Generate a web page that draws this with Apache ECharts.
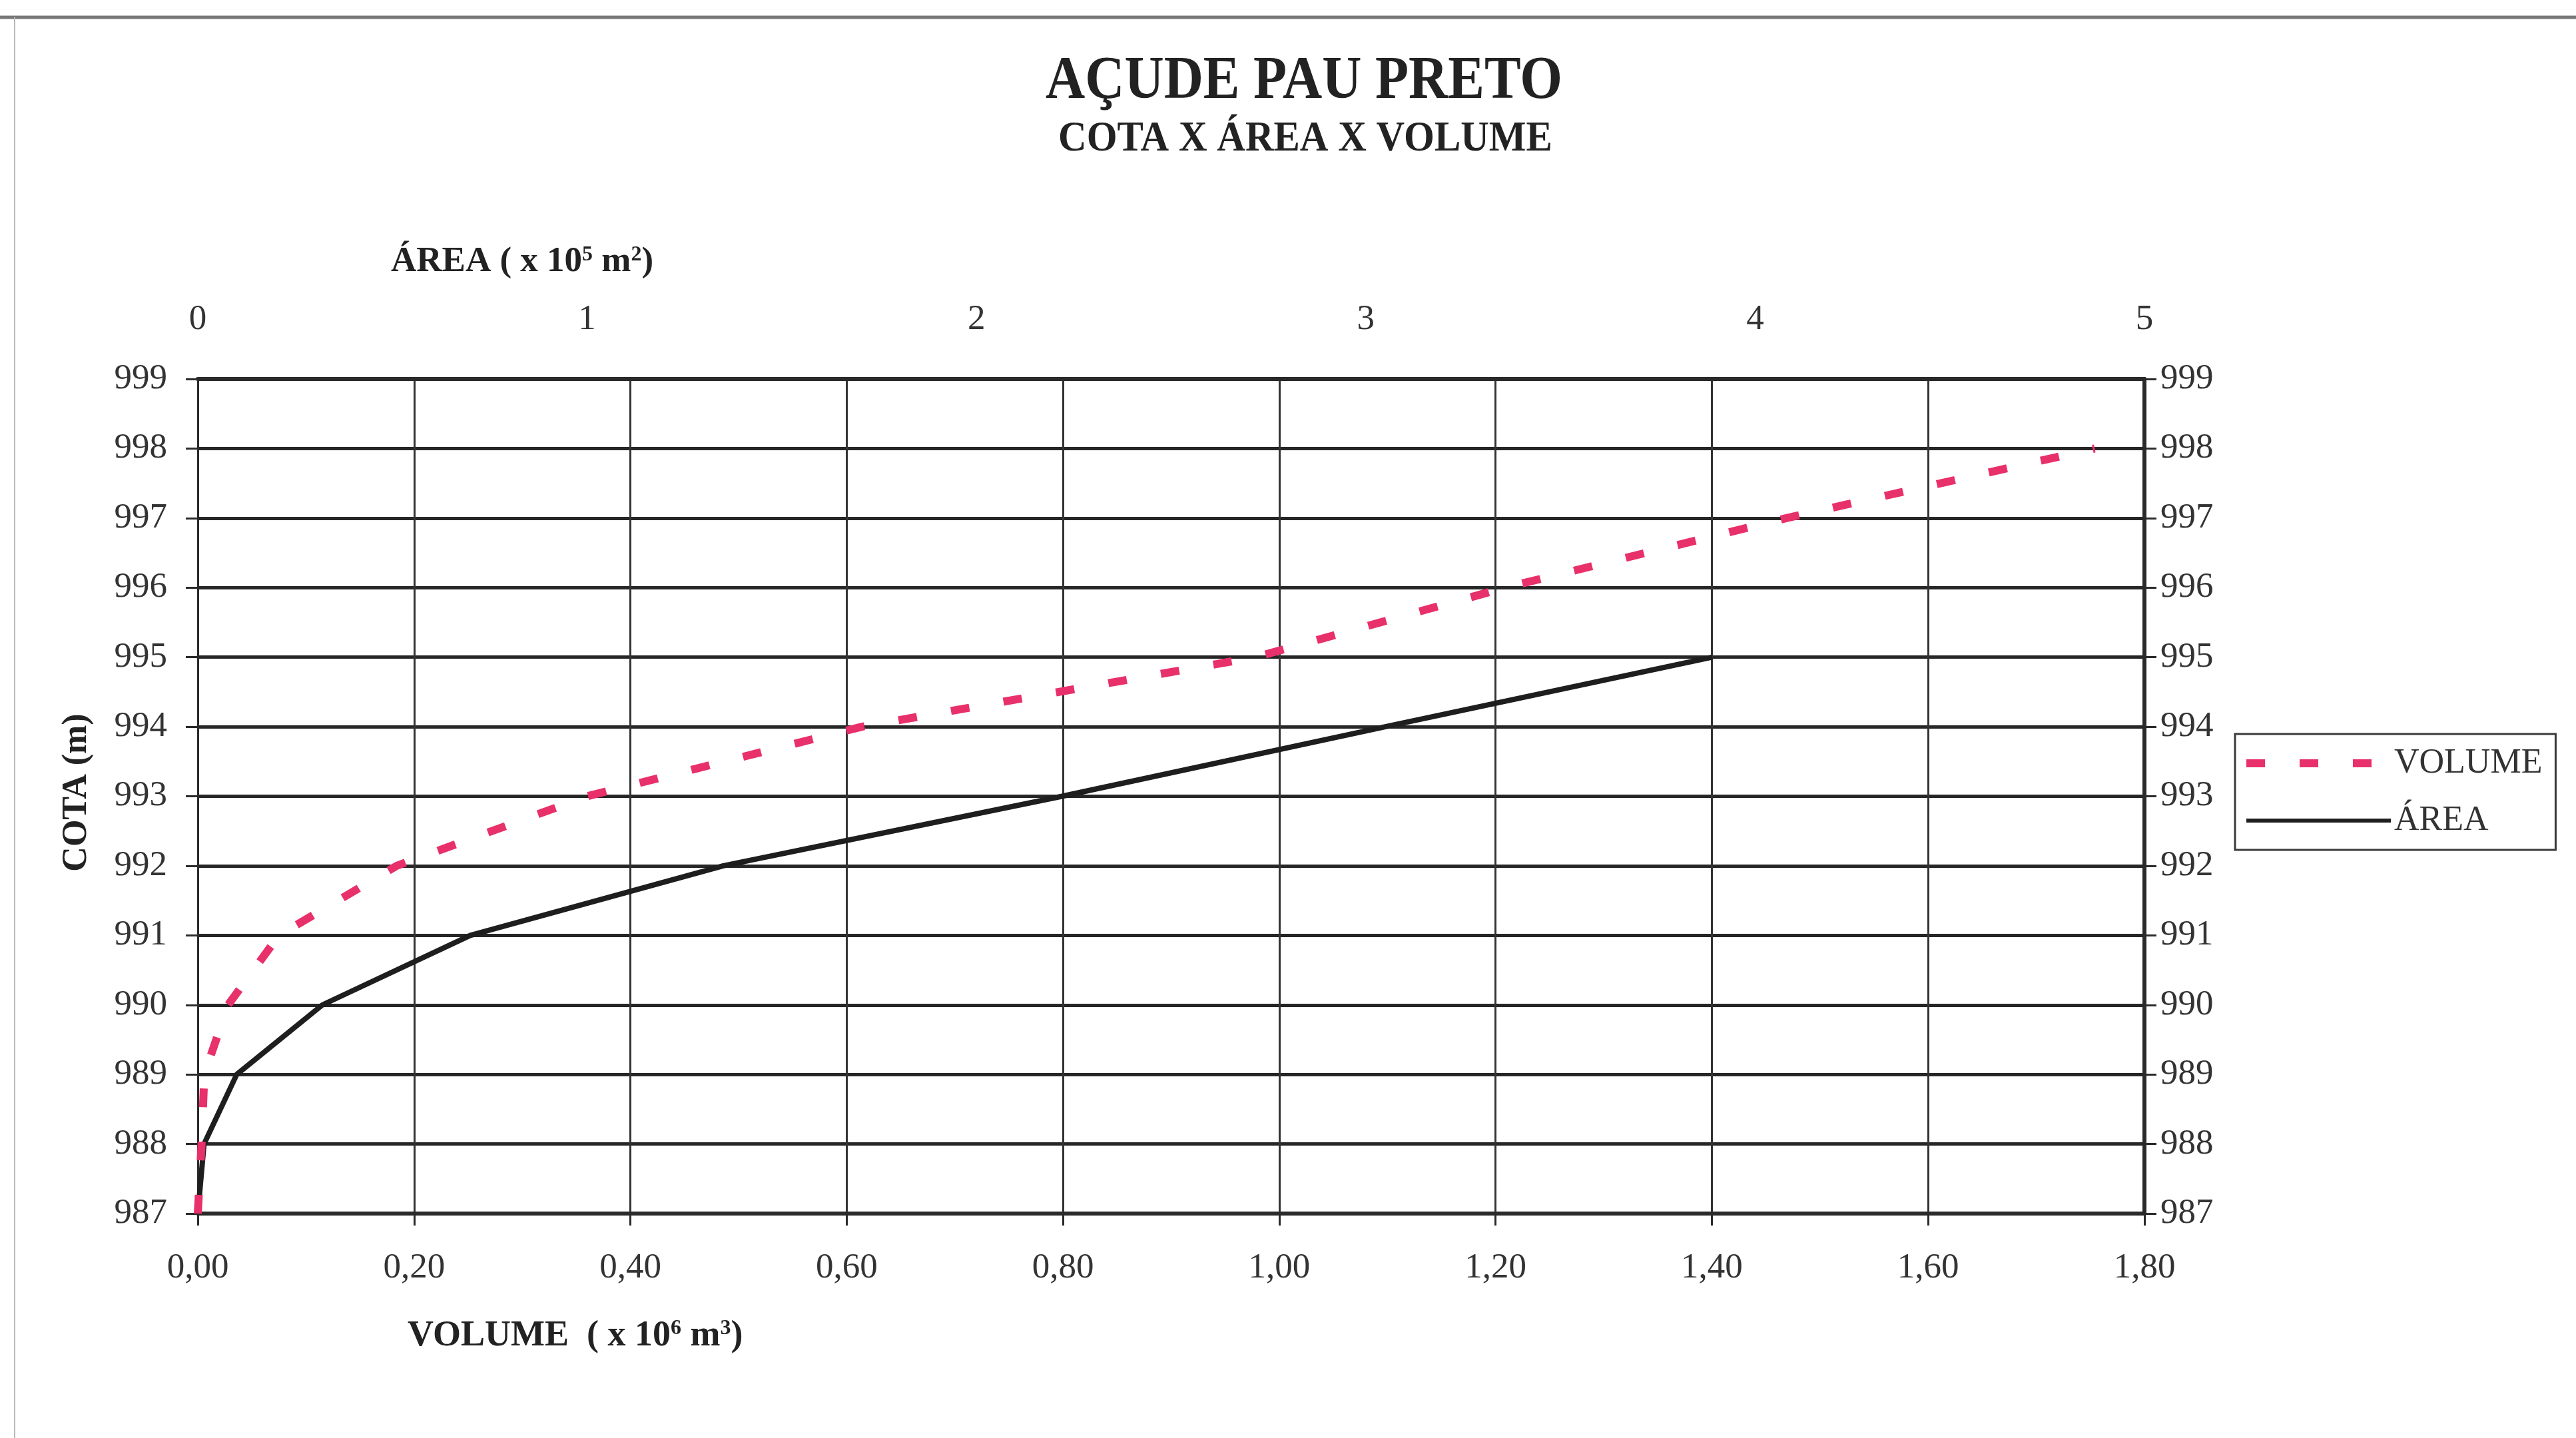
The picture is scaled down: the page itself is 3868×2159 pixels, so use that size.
<!DOCTYPE html>
<html><head><meta charset="utf-8">
<script src="https://cdn.jsdelivr.net/npm/echarts@6/dist/echarts.min.js"></script>
<style>html,body{margin:0;padding:0;background:#fff}#c{width:3868px;height:2159px}</style>
</head><body><div id="c"></div>
<script>
// ---- data ----
const cota = [987, 988, 989, 990, 991, 992, 993, 994, 995, 996, 997, 998];
const volume = [0, 0.0035, 0.006, 0.028, 0.075, 0.184, 0.36, 0.614, 0.978, 1.209, 1.469, 1.754]; // x 10^6 m3
const areaCota = [987, 988, 989, 990, 991, 992, 993, 994, 995];
const area = [0, 0.016, 0.10, 0.32, 0.70, 1.35, 2.22, 3.05, 3.89]; // x 10^5 m2
const seriesNames = ['VOLUME', 'ÁREA'];
const titleText = 'AÇUDE PAU PRETO';
const subtitleText = 'COTA X ÁREA X VOLUME';

const SERIF = "'Liberation Serif', 'DejaVu Serif', serif";
const RED = '#e8306a';
const BLACK = '#1e1e1e';
const chart = echarts.init(document.getElementById('c'), null, {renderer: 'canvas'});

const labelStyle = {fontFamily: SERIF, fontSize: 53, color: '#333'};

const option = {
  backgroundColor: '#fff',
  animation: false,
  grid: {left: 297, right: 648, top: 569, bottom: 337, containLabel: false, outerBoundsMode: 'none'},
  xAxis: [
    {
      type: 'value', position: 'bottom', min: 0, max: 1.8, interval: 0.2,
      axisLine: {show: true, onZero: false, lineStyle: {color: '#2a2a2a', width: 6}},
      axisTick: {show: true, inside: false, length: 18, lineStyle: {color: '#2a2a2a', width: 3}},
      axisLabel: Object.assign({margin: 56, formatter: v => v.toFixed(2).replace('.', ',')}, labelStyle),
      splitLine: {show: true, lineStyle: {color: '#333', width: 3}}
    },
    {
      type: 'value', position: 'top', min: 0, max: 5, interval: 1,
      axisLine: {show: true, onZero: false, lineStyle: {color: '#2a2a2a', width: 6}},
      axisTick: {show: false},
      axisLabel: Object.assign({margin: 62}, labelStyle),
      splitLine: {show: false}
    }
  ],
  yAxis: [
    {
      type: 'value', position: 'left', min: 987, max: 999, interval: 1,
      axisLine: {show: true, onZero: false, lineStyle: {color: '#2a2a2a', width: 3}},
      axisTick: {show: true, inside: false, length: 18, lineStyle: {color: '#2a2a2a', width: 3}},
      axisLabel: Object.assign({margin: 46}, labelStyle),
      splitLine: {show: true, lineStyle: {color: '#262626', width: 5}}
    },
    {
      type: 'value', position: 'right', min: 987, max: 999, interval: 1,
      axisLine: {show: true, onZero: false, lineStyle: {color: '#2a2a2a', width: 6}},
      axisTick: {show: true, inside: false, length: 18, lineStyle: {color: '#2a2a2a', width: 3}},
      axisLabel: Object.assign({margin: 24}, labelStyle),
      splitLine: {show: false}
    }
  ],
  legend: {
    data: [
      {name: seriesNames[0], itemStyle: {opacity: 0}, lineStyle: {color: RED, width: 12, type: [28, 52], opacity: 1}},
      {name: seriesNames[1], itemStyle: {opacity: 0}, lineStyle: {color: BLACK, width: 6, type: 'solid', opacity: 1}}
    ],
    orient: 'vertical',
    left: 3356, top: 1102,
    itemWidth: 217, itemHeight: 14, itemGap: 34,
    padding: [18, 20, 18, 11],
    borderColor: '#3a3a3a', borderWidth: 3,
    backgroundColor: '#fff',
    textStyle: {fontFamily: SERIF, fontSize: 52, color: '#333'}
  },
  series: [
    {
      name: seriesNames[1], type: 'line', xAxisIndex: 1, yAxisIndex: 0,
      symbol: 'none', smooth: false,
      lineStyle: {color: BLACK, width: 8},
      itemStyle: {color: BLACK},
      data: area.map((a, i) => [a, areaCota[i]]),
      z: 3
    },
    {
      name: seriesNames[0], type: 'line', xAxisIndex: 0, yAxisIndex: 0,
      symbol: 'none', smooth: false,
      lineStyle: {color: RED, width: 12, type: [28, 52], cap: 'butt'},
      itemStyle: {color: RED},
      data: volume.map((v, i) => [v, cota[i]]),
      z: 4
    }
  ],
  graphic: [
    {type: 'line', shape: {x1: 0, y1: 26, x2: 3868, y2: 26}, style: {stroke: '#777', lineWidth: 5}, silent: true},
    {type: 'line', shape: {x1: 22, y1: 26, x2: 22, y2: 2159}, style: {stroke: '#bbb', lineWidth: 2}, silent: true},
    {type: 'text', x: 1958, y: 124, scaleY: 1.1, style: {text: titleText, align: 'center', verticalAlign: 'middle', font: "bold 82px " + SERIF, fill: '#222'}, silent: true},
    {type: 'text', x: 1960, y: 210, scaleY: 1.08, style: {text: subtitleText, align: 'center', verticalAlign: 'middle', font: "bold 59px " + SERIF, fill: '#222'}, silent: true},
    {type: 'text', x: 587, y: 393, style: {
      text: 'ÁREA ( x 10{sup|5} m{sup|2})', verticalAlign: 'middle', align: 'left',
      fontFamily: SERIF, fontWeight: 'bold', fontSize: 53, fill: '#222',
      rich: {sup: {fontFamily: SERIF, fontWeight: 'bold', fontSize: 32, verticalAlign: 'top', fill: '#222'}}
    }, silent: true},
    {type: 'text', x: 612, y: 2006, style: {
      text: 'VOLUME  ( x 10{sup|6} m{sup|3})', verticalAlign: 'middle', align: 'left',
      fontFamily: SERIF, fontWeight: 'bold', fontSize: 54, fill: '#222',
      rich: {sup: {fontFamily: SERIF, fontWeight: 'bold', fontSize: 32, verticalAlign: 'top', fill: '#222'}}
    }, silent: true},
    {type: 'text', x: 116, y: 1190, rotation: Math.PI / 2, style: {
      text: 'COTA (m)', align: 'center', verticalAlign: 'middle',
      font: "bold 52px " + SERIF, fill: '#222'
    }, silent: true}
  ]
};
chart.setOption(option);
</script></body></html>
